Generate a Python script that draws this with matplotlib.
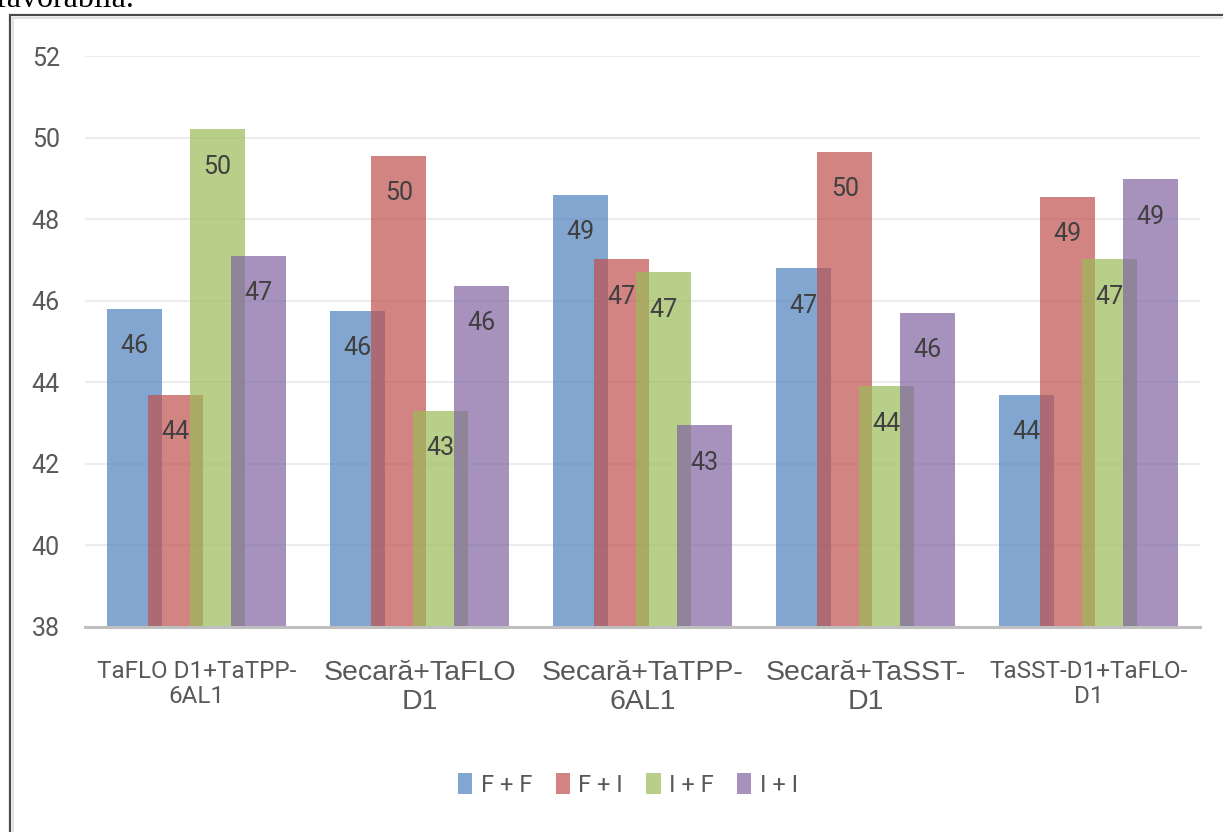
import matplotlib
matplotlib.use("Agg")
import matplotlib.pyplot as plt
from matplotlib.patches import Patch, Rectangle

# Date
categorii = ["TaFLO D1+TaTPP-\n6AL1", "Secară+TaFLO\nD1", "Secară+TaTPP-\n6AL1",
             "Secară+TaSST-\nD1", "TaSST-D1+TaFLO-\nD1"]
serii = ["F + F", "F + I", "I + F", "I + I"]
FF = [45.8, 45.75, 48.6, 46.8, 43.7]
FI = [43.7, 49.55, 47.02, 49.65, 48.55]
IF = [50.2, 43.3, 46.7, 43.9, 47.02]
II = [47.1, 46.37, 42.95, 45.7, 48.98]
culori = ["#4F81BD", "#C0504D", "#9BBB59", "#8064A2"]

ingust = ["Roboto", "DejaVu Sans"]
lat = ["Liberation Sans", "DejaVu Sans"]

W, H = 1223, 832
fig = plt.figure(figsize=(W / 100, H / 100), dpi=100)

# chenarul din jurul graficului
fig.patches.append(Rectangle((10 / W, -0.1), 1.2, 1 - 15 / H + 0.1, transform=fig.transFigure,
                             fill=False, edgecolor="#4a4a4a", linewidth=1.6, clip_on=False))
fig.patches.append(Rectangle((13 / W, -0.1), 1.2, 1 - 18 / H + 0.1, transform=fig.transFigure,
                             fill=False, edgecolor="#dddddd", linewidth=1.2, clip_on=False))
fig.text(-4 / W, 1 - 7 / H, "favorabilă.", family="Liberation Serif", fontsize=23,
         va="baseline", ha="left", color="black")

ax = fig.add_axes([85 / W, 1 - 627 / H, (1200 - 85) / W, (627 - 56) / H])

latime = 0.247
pas = 0.186
for j, (vals, nume) in enumerate(zip([FF, FI, IF, II], serii)):
    xs = [i + (j - 1.5) * pas for i in range(len(categorii))]
    ax.bar(xs, [v - 38 for v in vals], bottom=38, width=latime, color=culori[j],
           alpha=0.7, linewidth=0, zorder=2)
    for x, v in zip(xs, vals):
        ax.annotate(f"{v:.0f}", (x, v), xytext=(0, -27), textcoords="offset points",
                    ha="center", va="center", fontsize=18, color="#404040",
                    family=ingust, zorder=3)

ax.set_xlim(-0.5, 4.5)
ax.set_ylim(38, 52)
ax.set_yticks(range(38, 53, 2))
ax.yaxis.grid(True, color="#ececec", linewidth=1.5)
ax.set_axisbelow(True)
for s in ["top", "right", "left"]:
    ax.spines[s].set_visible(False)
ax.spines["bottom"].set_color("#bfbfbf")
ax.spines["bottom"].set_linewidth(2.2)
ax.tick_params(axis="y", length=0, pad=18, labelsize=18, labelcolor="#595959")
for lbl in ax.get_yticklabels():
    lbl.set_family(ingust)
ax.set_xticks([])

# etichetele categoriilor
for i, c in enumerate(categorii):
    e_ingust = i in (0, 4)
    ax.text(i, -0.058, c, transform=ax.get_xaxis_transform(), ha="center", va="top",
            fontsize=17.5 if e_ingust else 20.5, color="#595959", linespacing=1.12,
            family=ingust if e_ingust else lat)

handles = [Patch(facecolor=c, alpha=0.7, edgecolor="none") for c in culori]
fig.legend(handles, serii, loc="center", bbox_to_anchor=(628 / W, 1 - 785 / H), ncol=4,
           frameon=False, handlelength=0.6, handleheight=1.0, handletextpad=0.35,
           columnspacing=1.0, prop={"family": ingust, "size": 17},
           labelcolor="#595959")

fig.savefig("out.png", dpi=100)
